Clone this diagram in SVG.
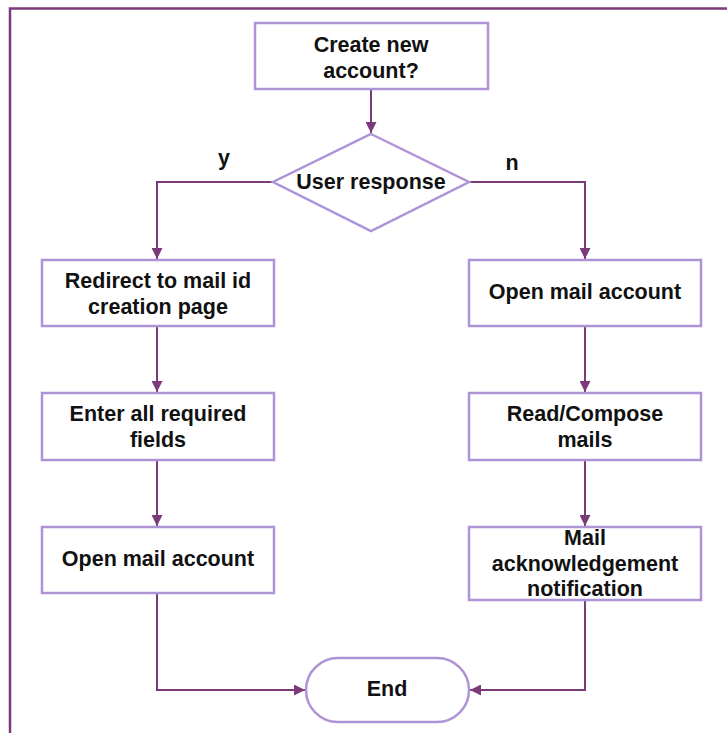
<svg xmlns="http://www.w3.org/2000/svg" width="727" height="733" viewBox="0 0 727 733">
<style>
.box{fill:#fff;stroke:#ae94d6;stroke-width:2.5}
.t{font-family:"Liberation Sans",Arial,sans-serif;font-weight:bold;font-size:21.5px;fill:#111;text-anchor:middle}
.c{fill:none;stroke:#7b3b7b;stroke-width:2}
</style>
<defs>
<marker id="ah" viewBox="0 0 10 10" refX="10" refY="5" markerWidth="11" markerHeight="11" orient="auto" markerUnits="userSpaceOnUse"><path d="M0,0 L10,5 L0,10 z" fill="#7b3b7b"/></marker>
</defs>
<rect width="727" height="733" fill="#fff"/>
<path d="M10,733 V8.5 H727" fill="none" stroke="#7b3b7b" stroke-width="2.5"/>
<g id="connectors">
<path class="c" d="M371,89 V133" marker-end="url(#ah)"/>
<path class="c" d="M273,182 H157 V259" marker-end="url(#ah)"/>
<path class="c" d="M469,182 H585 V259" marker-end="url(#ah)"/>
<path class="c" d="M157,326 V392" marker-end="url(#ah)"/>
<path class="c" d="M157,460 V526" marker-end="url(#ah)"/>
<path class="c" d="M585,326 V392" marker-end="url(#ah)"/>
<path class="c" d="M585,460 V526" marker-end="url(#ah)"/>
<path class="c" d="M157,593 V690 H305" marker-end="url(#ah)"/>
<path class="c" d="M585,600 V690 H470" marker-end="url(#ah)"/>
<text class="t" x="224" y="165">y</text>
<text class="t" x="512" y="170">n</text>
</g>
<g id="create">
<rect class="box" x="255" y="23" width="233" height="66"/>
<text class="t" x="371" y="52">Create new</text>
<text class="t" x="371" y="78">account?</text>
</g>
<g id="decision">
<polygon class="box" points="371,134 469,182 371,231 273,182"/>
<text class="t" x="371" y="189">User response</text>
</g>
<g id="redirect">
<rect class="box" x="42" y="260" width="232" height="66"/>
<text class="t" x="158" y="288">Redirect to mail id</text>
<text class="t" x="158" y="314">creation page</text>
</g>
<g id="enter">
<rect class="box" x="42" y="393" width="232" height="67"/>
<text class="t" x="158" y="421">Enter all required</text>
<text class="t" x="158" y="447">fields</text>
</g>
<g id="openL">
<rect class="box" x="42" y="527" width="232" height="66"/>
<text class="t" x="158" y="566">Open mail account</text>
</g>
<g id="openR">
<rect class="box" x="469" y="260" width="232" height="66"/>
<text class="t" x="585" y="299">Open mail account</text>
</g>
<g id="read">
<rect class="box" x="469" y="393" width="232" height="67"/>
<text class="t" x="585" y="421">Read/Compose</text>
<text class="t" x="585" y="447">mails</text>
</g>
<g id="ack">
<rect class="box" x="469" y="527" width="232" height="73"/>
<text class="t" x="585" y="545">Mail</text>
<text class="t" x="585" y="571">acknowledgement</text>
<text class="t" x="585" y="596">notification</text>
</g>
<g id="end">
<rect class="box" x="306" y="658" width="163" height="64" rx="32"/>
<text class="t" x="387" y="696">End</text>
</g>
</svg>
